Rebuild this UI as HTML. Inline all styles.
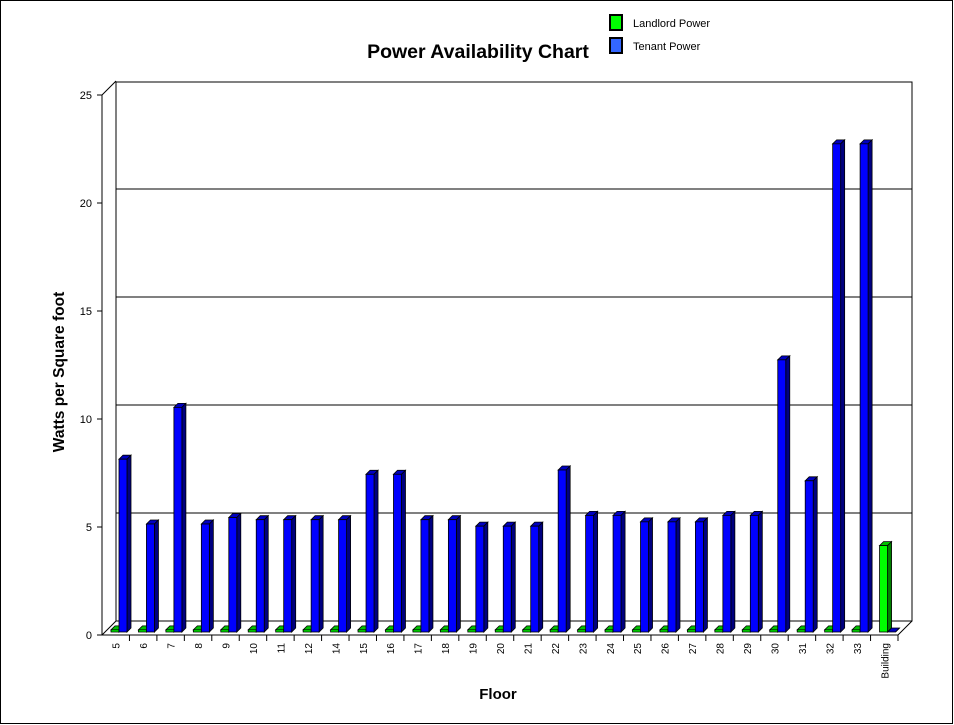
<!DOCTYPE html>
<html><head><meta charset="utf-8"><style>
html,body{margin:0;padding:0;background:#fff}
svg{display:block;font-family:"Liberation Sans",Arial,sans-serif}
</style></head><body>
<svg id="chart" width="954" height="725" viewBox="0 0 954 725">
<rect x="0.5" y="0.5" width="952" height="723" fill="#fff" stroke="#000"/>
<text x="478" y="58" text-anchor="middle" font-size="19.5" font-weight="bold">Power Availability Chart</text>
<g>
<g><rect x="610" y="15" width="12" height="15" fill="#00ff00" stroke="#000" stroke-width="2"/><text x="633" y="27" font-size="11">Landlord Power</text></g>
<g><rect x="610" y="38" width="12" height="15" fill="#3366ff" stroke="#000" stroke-width="2"/><text x="633" y="50" font-size="11">Tenant Power</text></g>
</g>
<text transform="translate(64,372) rotate(-90)" text-anchor="middle" font-size="15.5" font-weight="bold">Watts per Square foot</text>
<text x="498" y="699" text-anchor="middle" font-size="15" font-weight="bold">Floor</text>
<g id="plot"></g>
</svg>
<script>
const categories=["5","6","7","8","9","10","11","12","14","15","16","17","18","19","20","21","22","23","24","25","26","27","28","29","30","31","32","33","Building"];
const tenantValues=[8.0,5.0,10.4,5.0,5.3,5.2,5.2,5.2,5.2,7.3,7.3,5.2,5.2,4.9,4.9,4.9,7.5,5.4,5.4,5.1,5.1,5.1,5.4,5.4,12.6,7.0,22.6,22.6,0];
const landlordValues=[0.1,0.1,0.1,0.1,0.1,0.1,0.1,0.1,0.1,0.1,0.1,0.1,0.1,0.1,0.1,0.1,0.1,0.1,0.1,0.1,0.1,0.1,0.1,0.1,0.1,0.1,0.1,0.1,4.0];
const yTicks=[0,5,10,15,20,25];

const NS="http://www.w3.org/2000/svg";
const g=document.getElementById('plot');
const X0=102,X1=898,Y0=635,YMAX=25,YTOP=95,D=14;
const step=(X1-X0)/categories.length;
function y(v){return Y0-(v/YMAX)*(Y0-YTOP);}
function el(t,a,p){const e=document.createElementNS(NS,t);for(const k in a)e.setAttribute(k,a[k]);(p||g).appendChild(e);return e;}

let w=el('path',{d:`M${X0+D},${y(YMAX)-D+1} L${X0+D},${Y0-D} L${X1+D},${Y0-D} L${X1+D},${y(YMAX)-D+1} Z`,fill:'#fff',stroke:'#000','stroke-width':1});


yTicks.forEach(t=>{
  if(t>0&&t<YMAX){
    let l=el('line',{x1:X0+D,x2:X1+D,y1:y(t)-D,y2:y(t)-D,stroke:'#000'});
    
    
  }
  let tk=el('line',{x1:X0-5,x2:X0,y1:y(t),y2:y(t),stroke:'#000'});
  
  
  let tx=el('text',{x:X0-10,y:y(t)+4,'text-anchor':'end','font-size':11});
  tx.textContent=t;
  
  
});
let ax=el('path',{d:`M${X0},${YTOP} L${X0},${Y0} L${X1},${Y0} L${X1+D},${Y0-D} M${X0},${YTOP} L${X0+D},${YTOP-D} M${X0},${Y0} L${X0+D},${Y0-D}`,fill:'none',stroke:'#000'});



function bar(x,v,front,side,top,name){
  const bw=8,bd=4,base=Y0-3;
  const h=(v/YMAX)*(Y0-YTOP);
  const t=base-h;
  const grp=el('g',{});
  
  
  el('path',{d:`M${x},${t} L${x+bd},${t-bd} L${x+bw+bd},${t-bd} L${x+bw},${t} Z`,fill:top,stroke:'#000','stroke-width':0.8},grp);
  el('path',{d:`M${x+bw},${t} L${x+bw+bd},${t-bd} L${x+bw+bd},${base-bd} L${x+bw},${base} Z`,fill:side,stroke:'#000','stroke-width':0.8},grp);
  el('rect',{x:x,y:t,width:bw,height:h,fill:front,stroke:'#000','stroke-width':0.8},grp);
}
categories.forEach((c,i)=>{
  const cx=X0+i*step;
  bar(cx+9,landlordValues[i],'#00ff00','#008000','#00c000','bar-landlord-'+c);
  bar(cx+17,tenantValues[i],'#0000ff','#000080','#0000c0','bar-tenant-'+c);
  let tk=el('line',{x1:cx+step,x2:cx+step,y1:Y0,y2:Y0+6,stroke:'#000'});
  
  
  const lx=cx+step/2+4,ly=Y0+8;
  let tx=el('text',{x:lx,y:ly,'text-anchor':'end','font-size':10,transform:`rotate(-90 ${lx} ${ly})`});
  tx.textContent=c;
  
  
});
</script>
</body></html>
